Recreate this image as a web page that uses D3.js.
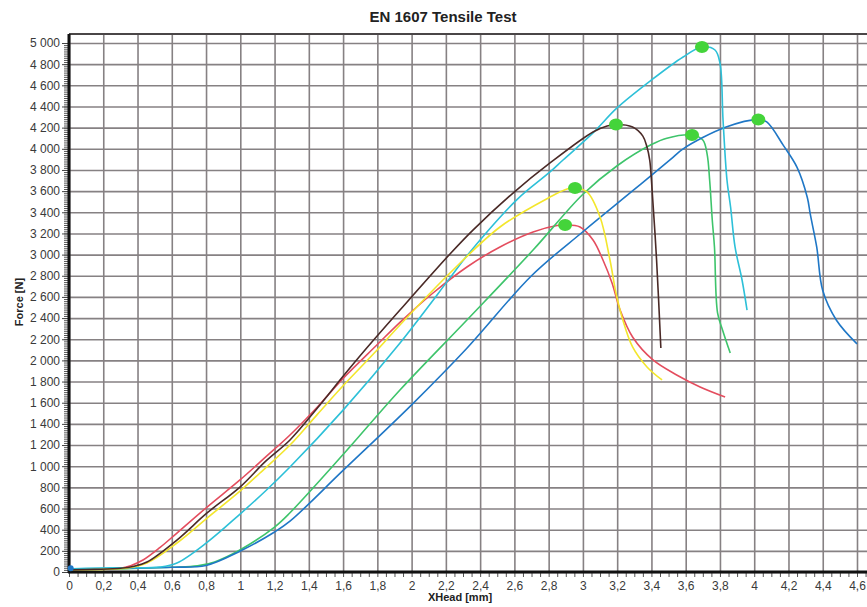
<!DOCTYPE html>
<html>
<head>
<meta charset="utf-8">
<script src="https://cdn.jsdelivr.net/npm/d3@7"></script>
<style>
  body { margin: 0; background: #fff; }
  svg { display: block; font-family: "Liberation Sans", Arial, sans-serif; }
</style>
</head>
<body>
<script>
// tick values
var xTicks = [0,0.2,0.4,0.6,0.8,1,1.2,1.4,1.6,1.8,2,2.2,2.4,2.6,2.8,3,3.2,3.4,3.6,3.8,4,4.2,4.4,4.6];
var yTicks = [0,200,400,600,800,1000,1200,1400,1600,1800,2000,2200,2400,2600,2800,3000,3200,3400,3600,3800,4000,4200,4400,4600,4800,5000];

// series: [XHead mm, Force N]
var redSeries = [[0.02,25],[0.15,25],[0.3,35],[0.36,60],[0.432,113],[0.53,230],[0.63,368],[0.806,614],[0.998,870],[1.15,1090],[1.29,1295],[1.45,1560],[1.6,1830],[1.8,2150],[1.932,2360],[2.125,2637],[2.323,2883],[2.516,3072],[2.709,3214],[2.849,3275],[2.896,3280],[2.983,3261],[3.059,3138],[3.117,2949],[3.17,2732],[3.217,2476],[3.29,2221],[3.409,2004],[3.55,1860],[3.684,1749],[3.83,1654]];
var brownSeries = [[0.02,20],[0.15,25],[0.3,35],[0.38,55],[0.455,94],[0.63,302],[0.806,558],[0.998,803],[1.15,1050],[1.29,1248],[1.45,1550],[1.6,1850],[1.728,2098],[1.932,2476],[2.224,3006],[2.358,3232],[2.592,3582],[2.808,3866],[3.059,4159],[3.141,4215],[3.193,4230],[3.29,4206],[3.35,4120],[3.374,4017],[3.39,3894],[3.40,3705],[3.43,2949],[3.455,2117]];
var yellowSeries = [[0.02,20],[0.2,25],[0.33,35],[0.455,85],[0.63,274],[0.806,510],[0.998,765],[1.115,936],[1.29,1200],[1.45,1490],[1.6,1760],[1.8,2100],[1.932,2335],[2.224,2826],[2.516,3261],[2.808,3544],[2.907,3620],[2.954,3629],[3.024,3592],[3.1,3355],[3.158,2949],[3.193,2637],[3.228,2410],[3.29,2127],[3.374,1938],[3.462,1815]];
var cyanSeries = [[0.02,30],[0.1,35],[0.3,40],[0.531,47],[0.63,85],[0.806,280],[1.0,550],[1.15,770],[1.29,992],[1.6,1530],[1.93,2160],[2.224,2780],[2.323,2990],[2.615,3520],[2.808,3781],[2.884,3894],[3.059,4150],[3.199,4386],[3.392,4640],[3.585,4868],[3.695,4962],[3.771,4934],[3.80,4811],[3.818,4272],[3.841,3705],[3.862,3450],[3.888,3072],[3.929,2760],[3.958,2476]];
var greenSeries = [[0.02,20],[0.3,30],[0.6,45],[0.75,58],[0.85,95],[1.0,210],[1.2,425],[1.29,560],[1.6,1110],[1.932,1720],[2.323,2382],[2.709,3043],[3.0,3570],[3.2,3840],[3.4,4040],[3.49,4100],[3.637,4130],[3.70,4083],[3.725,3950],[3.74,3700],[3.755,3330],[3.768,3070],[3.786,2450],[3.816,2283],[3.86,2070]];
var blueSeries = [[0,45],[0.015,30],[0.03,20],[0.3,35],[0.6,45],[0.8,62],[1.0,198],[1.2,378],[1.29,480],[1.6,960],[2.0,1580],[2.32,2110],[2.7,2800],[3.0,3216],[3.293,3606],[3.51,3897],[3.585,4000],[3.836,4206],[4.024,4276],[4.073,4254],[4.17,4032],[4.25,3825],[4.31,3540],[4.327,3384],[4.365,3070],[4.4,2660],[4.48,2380],[4.6,2156]];

// green markers at the maximum of each curve
var peakX = [2.896, 3.193, 2.954, 3.695, 3.637, 4.024];
var peakY = [3280, 4230, 3629, 4962, 4130, 4276];

var width = 867, height = 607;
var svg = d3.select('body').append('svg').attr('width', width).attr('height', height);

var xScale = d3.scaleLinear().domain([0, 4.6]).range([69, 857]);
var yScale = d3.scaleLinear().domain([0, 5000]).range([572, 43]);
var plotTop = 34, plotRight = 867;

// grid
svg.append('g')
    .attr('transform', 'translate(0,' + plotTop + ')')
    .call(d3.axisBottom(xScale).tickValues(xTicks).tickSize(572 - plotTop).tickFormat(''))
    .call(function(g){ g.select('.domain').remove(); })
    .selectAll('line').attr('stroke', '#868183').attr('stroke-width', 1.6);

svg.append('g')
    .attr('transform', 'translate(69,0)')
    .call(d3.axisRight(yScale).tickValues(yTicks).tickSize(plotRight - 69).tickFormat(''))
    .call(function(g){ g.select('.domain').remove(); })
    .selectAll('line').attr('stroke', '#868183').attr('stroke-width', 1.6);

svg.append('line')
    .attr('x1', 69).attr('x2', plotRight).attr('y1', plotTop).attr('y2', plotTop)
    .attr('stroke', '#4a4647').attr('stroke-width', 2);

// minor ticks
svg.append('g')
    .attr('transform', 'translate(68,0)')
    .call(d3.axisLeft(yScale).tickValues(d3.range(0, 5001, 20)).tickSize(4).tickFormat(''))
    .call(function(g){ g.select('.domain').remove(); })
    .selectAll('line').attr('stroke', '#555');

svg.append('g')
    .attr('transform', 'translate(0,573)')
    .call(d3.axisBottom(xScale).tickValues(d3.range(0, 4.66, 0.05)).tickSize(4).tickFormat(''))
    .call(function(g){ g.select('.domain').remove(); })
    .selectAll('line').attr('stroke', '#555');

// tick labels
var yAxis = svg.append('g')
    .attr('transform', 'translate(68,0)')
    .call(d3.axisLeft(yScale).tickValues(yTicks).tickSize(6)
        .tickFormat(function(d){ return d3.format(',')(d).replace(/,/g, ' '); }));
yAxis.select('.domain').remove();
yAxis.selectAll('line').attr('stroke', '#444');
yAxis.selectAll('text').attr('font-size', 12).attr('fill', '#3a3a3a')
    .attr('font-family', '"Liberation Sans", Arial, sans-serif').attr('x', -8);

var xAxis = svg.append('g')
    .attr('transform', 'translate(0,573)')
    .call(d3.axisBottom(xScale).tickValues(xTicks).tickSize(0)
        .tickFormat(function(d){ return String(+d.toFixed(1)).replace('.', ','); }));
xAxis.select('.domain').remove();
xAxis.selectAll('text').attr('font-size', 12).attr('fill', '#3a3a3a')
    .attr('font-family', '"Liberation Sans", Arial, sans-serif').attr('y', 8);

// main axis lines
svg.append('line').attr('x1', 69).attr('x2', 69).attr('y1', plotTop).attr('y2', 573)
    .attr('stroke', '#111').attr('stroke-width', 3);
svg.append('line').attr('x1', 68).attr('x2', plotRight).attr('y1', 572).attr('y2', 572)
    .attr('stroke', '#111').attr('stroke-width', 3);

// curves
var line = d3.line()
    .x(function(d){ return xScale(d[0]); })
    .y(function(d){ return yScale(d[1]); })
    .curve(d3.curveCatmullRom.alpha(0.5));

var series = [
    {data: redSeries, color: '#e44d5e'},
    {data: greenSeries, color: '#3ec46b'},
    {data: blueSeries, color: '#1f77c6'},
    {data: cyanSeries, color: '#2dc0d8'},
    {data: yellowSeries, color: '#f3e62c'},
    {data: brownSeries, color: '#4a2a27'}
];

svg.selectAll('path.curve')
    .data(series)
    .enter()
    .append('path')
    .attr('class', 'curve')
    .attr('d', function(d){ return line(d.data); })
    .attr('fill', 'none')
    .attr('stroke', function(d){ return d.color; })
    .attr('stroke-width', 1.6);

// blue splash at origin
svg.append('ellipse')
    .attr('cx', xScale(0.01)).attr('cy', yScale(35))
    .attr('rx', 3).attr('ry', 3).attr('fill', '#1f77c6');

svg.selectAll('ellipse.peak')
    .data(peakX)
    .enter()
    .append('ellipse')
    .attr('class', 'peak')
    .attr('cx', function(d){ return xScale(d); })
    .attr('cy', function(d, i){ return yScale(peakY[i]); })
    .attr('rx', 7).attr('ry', 6)
    .attr('fill', '#44d43a');

// titles
svg.append('text')
    .attr('x', 443).attr('y', 22)
    .attr('text-anchor', 'middle')
    .attr('font-size', 15).attr('font-weight', 'bold').attr('fill', '#222')
    .text('EN 1607 Tensile Test');

svg.append('text')
    .attr('x', 460).attr('y', 601)
    .attr('text-anchor', 'middle')
    .attr('font-size', 11).attr('font-weight', 'bold').attr('fill', '#222')
    .text('XHead [mm]');

svg.append('text')
    .attr('transform', 'translate(23,302) rotate(-90)')
    .attr('text-anchor', 'middle')
    .attr('font-size', 11).attr('font-weight', 'bold').attr('fill', '#222')
    .text('Force [N]');
</script>
</body>
</html>
